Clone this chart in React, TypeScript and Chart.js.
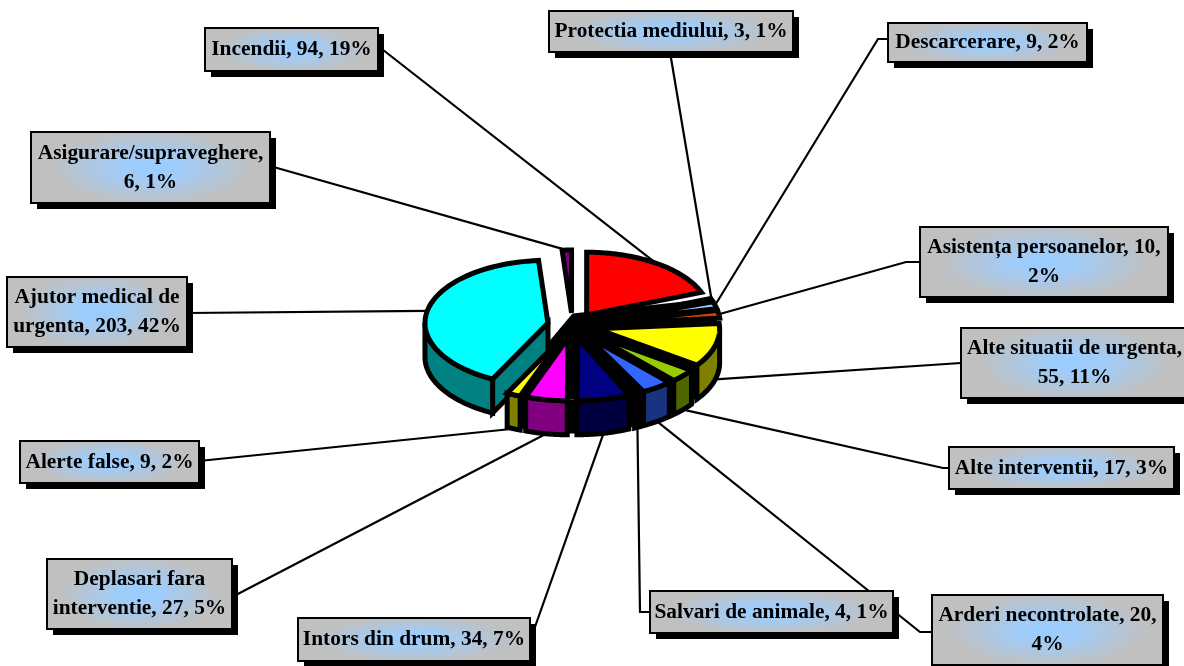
import React, { useEffect, useRef } from "react";
import { Chart, registerables } from "chart.js";

Chart.register(...registerables);

const categories = ["Incendii", "Protectia mediului", "Descarcerare", "Asistența persoanelor", "Alte situatii de urgenta", "Alte interventii", "Arderi necontrolate", "Salvari de animale", "Intors din drum", "Deplasari fara interventie", "Alerte false", "Ajutor medical de urgenta", "Asigurare/supraveghere"];
const values = [94, 3, 9, 10, 55, 17, 20, 4, 34, 27, 9, 203, 6];
const topColors = ["#ff0000", "#000000", "#99ccff", "#cc4400", "#ffff00", "#99cc00", "#3366ff", "#000000", "#000080", "#ff00ff", "#ffff00", "#00ffff", "#800080"];
const sideColors = ["#800000", "#000000", "#4d6680", "#662200", "#808000", "#4d6600", "#1a3380", "#000000", "#000040", "#800080", "#808000", "#008080", "#400040"];
const labelLines = [
  ["Incendii, 94, 19%"],
  ["Protectia mediului, 3, 1%"],
  ["Descarcerare, 9, 2%"],
  ["Asistența persoanelor, 10,", "2%"],
  ["Alte situatii de urgenta,", "55, 11%"],
  ["Alte interventii, 17, 3%"],
  ["Arderi necontrolate, 20,", "4%"],
  ["Salvari de animale, 4, 1%"],
  ["Intors din drum, 34, 7%"],
  ["Deplasari fara", "interventie, 27, 5%"],
  ["Alerte false, 9, 2%"],
  ["Ajutor medical de", "urgenta, 203, 42%"],
  ["Asigurare/supraveghere,", "6, 1%"],
];

// label box layout: left, top, right, bottom
const boxes = [
  [205, 28, 378, 71],
  [549, 11, 793, 52],
  [888, 23, 1087, 62],
  [920, 227, 1168, 297],
  [961, 328, 1188, 398],
  [949, 447, 1174, 489],
  [932, 595, 1163, 665],
  [650, 591, 893, 633],
  [298, 618, 530, 661],
  [47, 559, 232, 629],
  [20, 441, 199, 483],
  [7, 277, 187, 347],
  [31, 132, 270, 203],
];
// leader line start (box side), with an optional elbow
const leaders: number[][][] = [
  [[378, 46]],
  [[670, 52]],
  [[888, 39], [878, 39]],
  [[920, 262], [906, 262]],
  [[961, 363]],
  [[949, 468], [943, 468]],
  [[932, 632], [920, 632]],
  [[650, 612], [640, 612]],
  [[530, 641]],
  [[232, 597]],
  [[199, 461]],
  [[187, 313]],
  [[270, 166]],
];

const TILT = 0.51;
const DEPTH = 34;
const STROKE = 5;
const EXPLODE = 25;
const TOP = -Math.PI / 2;

const piePlugin = {
  id: "pie3d",
  beforeDatasetsDraw(chart: any) {
    const ctx: CanvasRenderingContext2D = chart.ctx;
    const arcs: any[] = chart.getDatasetMeta(0).data;
    const cx0 = arcs[0].x;
    const cy0 = arcs[0].y;
    const R = arcs[0].outerRadius;
    const geo = arcs.map((a, i) => {
      const mid = (a.startAngle + a.endAngle) / 2;
      const x = cx0 + Math.cos(mid) * EXPLODE;
      const y = cy0 + Math.sin(mid) * EXPLODE * TILT;
      return { i, a, mid, x, y, r: a.outerRadius };
    });

    // leader lines lie behind the pie
    ctx.save();
    ctx.strokeStyle = "#000";
    ctx.lineWidth = 2.2;
    geo.forEach((g) => {
      const px = g.x + Math.cos(g.mid) * g.r;
      const py = g.y + Math.sin(g.mid) * g.r * TILT + (Math.sin(g.mid) > 0 ? DEPTH : 0);
      ctx.beginPath();
      leaders[g.i].forEach((p, k) => (k ? ctx.lineTo(p[0], p[1]) : ctx.moveTo(p[0], p[1])));
      ctx.lineTo(px, py);
      ctx.stroke();
    });
    ctx.restore();

    const pt = (x: number, y: number, r: number, t: number, dy: number): [number, number] => [
      x + Math.cos(t) * r,
      y + Math.sin(t) * r * TILT + dy,
    ];
    const sectorPath = (g: any) => {
      ctx.beginPath();
      ctx.moveTo(g.x, g.y);
      const N = 60;
      for (let k = 0; k <= N; k++) {
        const t = g.a.startAngle + ((g.a.endAngle - g.a.startAngle) * k) / N;
        ctx.lineTo(...pt(g.x, g.y, g.r, t, 0));
      }
      ctx.closePath();
    };
    const rimPath = (x: number, y: number, r: number, s0: number, e0: number) => {
      // only the part of the rim that faces the viewer
      const s = Math.max(s0, 0);
      const e = Math.min(e0, Math.PI);
      if (e <= s) return false;
      ctx.beginPath();
      const N = 60;
      for (let k = 0; k <= N; k++) {
        const t = s + ((e - s) * k) / N;
        const p = pt(x, y, r, t, 0);
        k ? ctx.lineTo(...p) : ctx.moveTo(...p);
      }
      for (let k = N; k >= 0; k--) {
        const t = s + ((e - s) * k) / N;
        ctx.lineTo(...pt(x, y, r, t, DEPTH));
      }
      ctx.closePath();
      return true;
    };

    ctx.save();
    ctx.lineWidth = STROKE;
    ctx.lineJoin = "miter";
    ctx.miterLimit = 4;
    ctx.strokeStyle = "#000";

    // dark core seen through the gaps between the lower slices
    const big = geo.reduce((p, q) => (q.a.endAngle - q.a.startAngle > p.a.endAngle - p.a.startAngle ? q : p));
    const coreS = arcs[0].endAngle;
    const coreE = big.a.startAngle;
    ctx.fillStyle = "#000";
    ctx.beginPath();
    ctx.moveTo(cx0, cy0 - 12);
    const coreR = R + EXPLODE - 3;
    for (let k = 0; k <= 60; k++) {
      ctx.lineTo(...pt(cx0, cy0, coreR, coreS + ((coreE - coreS) * k) / 60, 0));
    }
    ctx.closePath();
    ctx.fill();
    if (rimPath(cx0, cy0, coreR, coreS, coreE)) ctx.fill();
    ctx.beginPath();
    ctx.moveTo(cx0, cy0);
    ctx.lineTo(...pt(cx0, cy0, coreR, coreE, 0));
    ctx.lineTo(...pt(cx0, cy0, coreR, coreE, DEPTH));
    ctx.lineTo(cx0, cy0 + DEPTH);
    ctx.closePath();
    ctx.fill();

    const order = [...geo].sort((p, q) => Math.sin(p.mid) - Math.sin(q.mid));
    order.forEach((g) => {
      ctx.fillStyle = sideColors[g.i];
      if (g === big) {
        // cut face of the largest slice
        ctx.beginPath();
        ctx.moveTo(g.x, g.y);
        ctx.lineTo(...pt(g.x, g.y, g.r, g.a.startAngle, 0));
        ctx.lineTo(...pt(g.x, g.y, g.r, g.a.startAngle, DEPTH));
        ctx.lineTo(g.x, g.y + DEPTH);
        ctx.closePath();
        ctx.fill();
        ctx.stroke();
      }
      if (rimPath(g.x, g.y, g.r, g.a.startAngle, g.a.endAngle)) {
        ctx.fill();
        ctx.stroke();
      }
      sectorPath(g);
      ctx.fillStyle = topColors[g.i];
      ctx.fill();
      ctx.stroke();
    });
    ctx.restore();

    // label boxes
    geo.forEach((g) => {
      const [l, t, r, b] = boxes[g.i];
      ctx.fillStyle = "#000";
      ctx.fillRect(l + 6, t + 6, r - l, b - t);
      const cx = (l + r) / 2, cy = (t + b) / 2;
      const grad = ctx.createRadialGradient(0, 0, 0, 0, 0, 1);
      grad.addColorStop(0, "#99ccff");
      grad.addColorStop(0.3, "#a0ccf8");
      grad.addColorStop(1, "#c0c0c0");
      ctx.save();
      ctx.beginPath();
      ctx.rect(l, t, r - l, b - t);
      ctx.clip();
      ctx.translate(cx, cy);
      ctx.scale(((r - l) / 2) * 0.85, ((b - t) / 2) * 1.05);
      ctx.fillStyle = grad;
      ctx.fillRect(-2, -2, 4, 4);
      ctx.restore();
      ctx.strokeStyle = "#000";
      ctx.lineWidth = 2;
      ctx.strokeRect(l, t, r - l, b - t);
      ctx.fillStyle = "#000";
      ctx.font = "bold 21.4px 'Liberation Serif'";
      ctx.textAlign = "center";
      ctx.textBaseline = "middle";
      const lines = labelLines[g.i];
      lines.forEach((s, k) => {
        ctx.fillText(s, cx, cy + (k - (lines.length - 1) / 2) * 29);
      });
    });
    return false;
  },
};

export default function App() {
  const ref = useRef<HTMLCanvasElement>(null);
  useEffect(() => {
    document.body.style.margin = "0";
    document.body.style.background = "#fff";
    const chart = new Chart(ref.current!, {
      type: "pie",
      data: {
        labels: categories,
        datasets: [{ data: values, backgroundColor: topColors, borderWidth: 0, offset: EXPLODE } as any],
      },
      options: {
        animation: false,
        responsive: false,
        devicePixelRatio: 1,
        layout: { padding: { left: 437, right: 476, top: 190, bottom: 205 } },
        plugins: { legend: { display: false }, tooltip: { enabled: false } },
      },
      plugins: [piePlugin],
    });
    return () => chart.destroy();
  }, []);
  return <canvas ref={ref} width={1184} height={666} style={{ display: "block" }} />;
}
